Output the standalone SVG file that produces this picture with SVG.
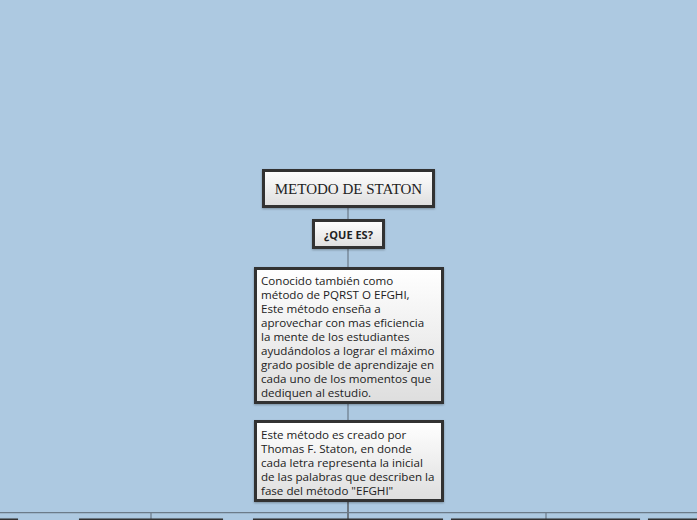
<svg xmlns="http://www.w3.org/2000/svg" width="697" height="520" viewBox="0 0 697 520">
<defs>
<linearGradient id="g" x1="0" y1="0" x2="0" y2="1">
<stop offset="0" stop-color="#ffffff"/>
<stop offset="1" stop-color="#dedede"/>
</linearGradient>
<filter id="sh" x="-10%" y="-10%" width="120%" height="130%">
<feDropShadow dx="0" dy="1" stdDeviation="1" flood-color="#000" flood-opacity="0.3"/>
</filter>
</defs>
<style>
.box{fill:url(#g);stroke:#333333;stroke-width:3;filter:url(#sh)}
.con{stroke:#6b7b89;stroke-width:1.2;fill:none}
.t{font-family:"Open Sans",Lato,"Liberation Sans",sans-serif;font-size:11.6px;fill:#222}
</style>
<rect width="697" height="520" fill="#adc9e1"/>
<g id="connectors">
<line class="con" x1="348" y1="208" x2="348" y2="219"/>
<line class="con" x1="348" y1="249" x2="348" y2="267"/>
<line class="con" x1="348" y1="404" x2="348" y2="420"/>
<line x1="348" y1="502" x2="348" y2="519" stroke="#444" stroke-width="1.2"/>
<line class="con" x1="0" y1="512.7" x2="697" y2="512.7"/>
<line class="con" x1="151" y1="512" x2="151" y2="519"/>
<line class="con" x1="546" y1="512" x2="546" y2="519"/>
</g>
<g id="node-metodo">
<rect class="box" x="263.5" y="170.5" width="170" height="36"/>
<text x="348.5" y="194" text-anchor="middle" font-family="'Liberation Serif','Times New Roman',serif" font-size="15" fill="#222">METODO DE STATON</text>
</g>
<g id="node-quees">
<rect class="box" x="313.5" y="220.5" width="70" height="27"/>
<text x="348.5" y="239" text-anchor="middle" font-family="'Open Sans','Liberation Sans',sans-serif" font-size="11" font-weight="bold" fill="#222">¿QUE ES?</text>
</g>
<g id="node-conocido">
<rect class="box" x="255.5" y="268.5" width="187" height="134"/>
<text class="t">
<tspan x="261" y="285">Conocido también como</tspan>
<tspan x="261" y="299">método de PQRST O EFGHI,</tspan>
<tspan x="261" y="313">Este método enseña a</tspan>
<tspan x="261" y="327">aprovechar con mas eficiencia</tspan>
<tspan x="261" y="341">la mente de los estudiantes</tspan>
<tspan x="261" y="355">ayudándolos a lograr el máximo</tspan>
<tspan x="261" y="369">grado posible de aprendizaje en</tspan>
<tspan x="261" y="383">cada uno de los momentos que</tspan>
<tspan x="261" y="397">dediquen al estudio.</tspan>
</text>
</g>
<g id="node-creado">
<rect class="box" x="255.5" y="421.5" width="187" height="79"/>
<text class="t">
<tspan x="261" y="438.5">Este método es creado por</tspan>
<tspan x="261" y="452.5">Thomas F. Staton, en donde</tspan>
<tspan x="261" y="466.5">cada letra representa la inicial</tspan>
<tspan x="261" y="480.5">de las palabras que describen la</tspan>
<tspan x="261" y="494.5">fase del método "EFGHI"</tspan>
</text>
</g>
<g id="node-b1"><rect class="box" x="-10" y="520" width="26.5" height="40"/></g>
<g id="node-b2"><rect class="box" x="80.5" y="520" width="141" height="40"/></g>
<g id="node-b3"><rect class="box" x="254.5" y="520" width="187" height="40"/></g>
<g id="node-b4"><rect class="box" x="452.5" y="520" width="186" height="40"/></g>
<g id="node-b5"><rect class="box" x="649.5" y="520" width="60" height="40"/></g>
</svg>
